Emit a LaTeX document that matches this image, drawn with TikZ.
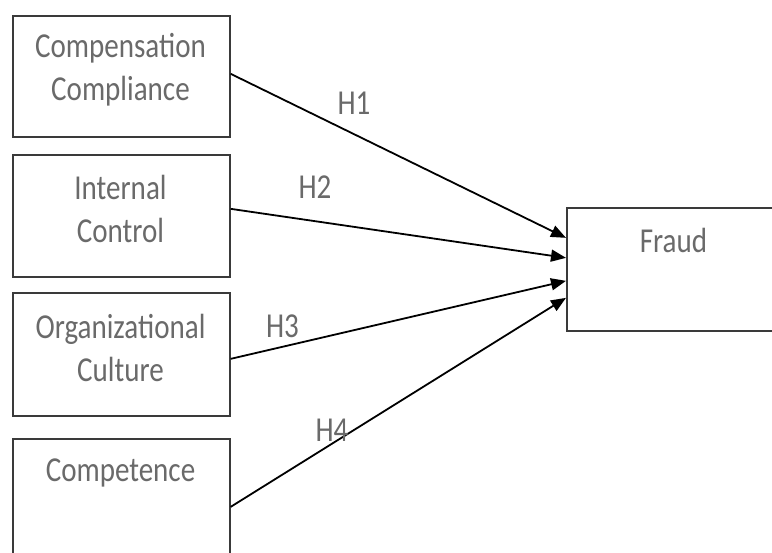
\documentclass[tikz,border=0pt]{standalone}
\usepackage{fontspec}
\setmainfont[FakeStretch=0.83]{Carlito}
\usetikzlibrary{arrows.meta,calc}
\definecolor{txtgray}{HTML}{6A6A6A}
\definecolor{boxline}{HTML}{3A3A3A}
\begin{document}
\begin{tikzpicture}[x=1pt,y=-1pt,
  box/.style={draw=boxline, line width=1.7pt, fill=white, inner sep=0pt, anchor=north west},
  lbl/.style={text=txtgray, font=\fontsize{35}{43}\selectfont, inner sep=0pt, anchor=base, align=center},
  arr/.style={line width=1.8pt, -{Triangle[length=15pt,width=12pt]}}]
\useasboundingbox (0,0) rectangle (772,553);
\node[box, minimum width=217pt, minimum height=121pt] (b1) at (12,15) {};
\node[box, minimum width=217pt, minimum height=122pt] (b2) at (12,154) {};
\node[box, minimum width=217pt, minimum height=123pt] (b3) at (12,292) {};
\node[box, minimum width=217pt, minimum height=160pt] (b4) at (12,438) {};
\node[box, minimum width=240pt, minimum height=123pt] (fr) at (566,207) {};
\node[lbl] (t1) at (120.5,101) {Compensation\\Compliance};
\node[lbl] (t2) at (120.5,243) {Internal\\Control};
\node[lbl] (t3) at (120.5,382) {Organizational\\Culture};
\node[lbl] (t4) at (120.5,482) {Competence};
\node[lbl] (t5) at (673.5,253) {Fraud};
\draw[arr] ($(b1.east)+(0,-2.5)$) -- ($(fr.west)+(0,-31.5)$);
\draw[arr] ($(b2.east)+(0,-7)$) -- ($(fr.west)+(0,-11.5)$);
\draw[arr] ($(b3.east)+(0,4.5)$) -- ($(fr.west)+(0,11.5)$);
\draw[arr] ($(b4.east)+(0,-12)$) -- ($(fr.west)+(0,28.5)$);
\node[lbl] (h1) at (354,115) {H1};
\node[lbl] (h2) at (315,199) {H2};
\node[lbl] (h3) at (282.5,338) {H3};
\node[lbl] (h4) at (332,442) {H4};
\end{tikzpicture}
\end{document}
